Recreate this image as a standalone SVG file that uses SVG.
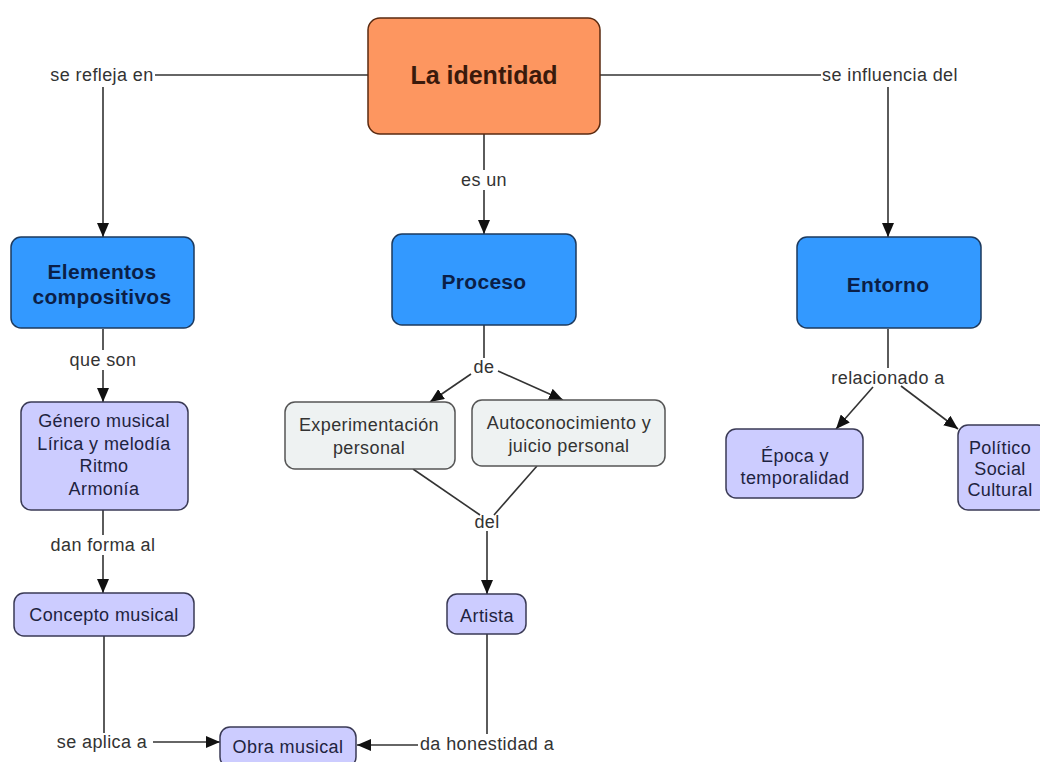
<svg xmlns="http://www.w3.org/2000/svg" width="1040" height="762" viewBox="0 0 1040 762">
<defs>
<style>
.lbl{font-family:"Liberation Sans",Arial,sans-serif;font-size:18px;letter-spacing:0.4px;fill:#333;text-anchor:middle}
.ln{fill:none;stroke:#333;stroke-width:1.6}
.blue{fill:#3399ff;stroke:#1d3a5e;stroke-width:1.5}
.lav{fill:#ccccff;stroke:#3a3a55;stroke-width:1.5}
.gry{fill:#eef2f2;stroke:#555;stroke-width:1.5}
.tb{font-family:"Liberation Sans",Arial,sans-serif;font-size:21px;letter-spacing:0.3px;font-weight:bold;fill:#0b1f47;text-anchor:middle}
.tn{font-family:"Liberation Sans",Arial,sans-serif;font-size:18px;letter-spacing:0.4px;fill:#1e2340;text-anchor:middle}
.tg{font-family:"Liberation Sans",Arial,sans-serif;font-size:18px;letter-spacing:0.4px;fill:#333;text-anchor:middle}
</style>
<marker id="ah" viewBox="0 0 14 12" refX="14" refY="6" markerWidth="14" markerHeight="12" markerUnits="userSpaceOnUse" orient="auto">
<path d="M0,0 L14,6 L0,12 z" fill="#111"/>
</marker>
</defs>
<rect width="1040" height="762" fill="#fff"/>
<g id="connectors">
<path class="ln" d="M368,75 H155"/>
<path class="ln" d="M103,87 V237" marker-end="url(#ah)"/>
<path class="ln" d="M600,75 H821"/>
<path class="ln" d="M888,87 V237" marker-end="url(#ah)"/>
<path class="ln" d="M484,134 V170"/>
<path class="ln" d="M484,190 V234" marker-end="url(#ah)"/>
<path class="ln" d="M103,329 V350"/>
<path class="ln" d="M103,370 V402" marker-end="url(#ah)"/>
<path class="ln" d="M103,510 V535"/>
<path class="ln" d="M103,555 V593" marker-end="url(#ah)"/>
<path class="ln" d="M484,325 V358"/>
<path class="ln" d="M471,374 L430,402" marker-end="url(#ah)"/>
<path class="ln" d="M498,371 L563,400" marker-end="url(#ah)"/>
<path class="ln" d="M413,469 L480,515"/>
<path class="ln" d="M537,466 L494,515"/>
<path class="ln" d="M487,531 V594" marker-end="url(#ah)"/>
<path class="ln" d="M888,329 V368"/>
<path class="ln" d="M873,387 L836,429" marker-end="url(#ah)"/>
<path class="ln" d="M901,386 L958,429" marker-end="url(#ah)"/>
<path class="ln" d="M104,636 V733"/>
<path class="ln" d="M153,742 H220" marker-end="url(#ah)"/>
<path class="ln" stroke="#777" d="M487,634 V734"/>
<path class="ln" d="M418,745 H357" marker-end="url(#ah)"/>
<text class="lbl" x="102" y="81">se refleja en</text>
<text class="lbl" x="890" y="81">se influencia del</text>
<text class="lbl" x="484" y="186">es un</text>
<text class="lbl" x="103" y="366">que son</text>
<text class="lbl" x="103" y="551">dan forma al</text>
<text class="lbl" x="484" y="373">de</text>
<text class="lbl" x="487" y="528">del</text>
<text class="lbl" x="888" y="384">relacionado a</text>
<text class="lbl" x="102" y="748">se aplica a</text>
<text class="lbl" x="487" y="750">da honestidad a</text>
</g>
<g id="n-identidad">
<rect x="368" y="18" width="232" height="116" rx="12" fill="#fd9660" stroke="#5a2a10" stroke-width="1.5"/>
<text x="484" y="84" font-family="Liberation Sans,Arial,sans-serif" font-size="25" font-weight="bold" fill="#3a1a0c" text-anchor="middle">La identidad</text>
</g>
<g id="n-elementos">
<rect class="blue" x="11" y="237" width="183" height="91" rx="10"/>
<text class="tb" x="102" y="279">Elementos</text>
<text class="tb" x="102" y="304">compositivos</text>
</g>
<g id="n-proceso">
<rect class="blue" x="392" y="234" width="184" height="91" rx="10"/>
<text class="tb" x="484" y="289">Proceso</text>
</g>
<g id="n-entorno">
<rect class="blue" x="797" y="237" width="184" height="91" rx="10"/>
<text class="tb" x="888" y="292">Entorno</text>
</g>
<g id="n-genero">
<rect class="lav" x="21" y="402" width="167" height="108" rx="10"/>
<text class="tn" x="104" y="427">Género musical</text>
<text class="tn" x="104" y="449.5">Lírica y melodía</text>
<text class="tn" x="104" y="472">Ritmo</text>
<text class="tn" x="104" y="494.5">Armonía</text>
</g>
<g id="n-concepto">
<rect class="lav" x="14" y="593" width="180" height="43" rx="10"/>
<text class="tn" x="104" y="621">Concepto musical</text>
</g>
<g id="n-experimentacion">
<rect class="gry" x="285" y="402" width="170" height="67" rx="10"/>
<text class="tg" x="369" y="431">Experimentación</text>
<text class="tg" x="369" y="454">personal</text>
</g>
<g id="n-autoconocimiento">
<rect class="gry" x="472" y="400" width="193" height="66" rx="10"/>
<text class="tg" x="569" y="429">Autoconocimiento y</text>
<text class="tg" x="569" y="452">juicio personal</text>
</g>
<g id="n-artista">
<rect class="lav" x="447" y="594" width="79" height="40" rx="10"/>
<text class="tn" x="487" y="622">Artista</text>
</g>
<g id="n-obra">
<rect class="lav" x="220" y="727" width="136" height="40" rx="10"/>
<text class="tn" x="288" y="753">Obra musical</text>
</g>
<g id="n-epoca">
<rect class="lav" x="726" y="429" width="137" height="69" rx="10"/>
<text class="tn" x="795" y="462">Época y</text>
<text class="tn" x="795" y="484">temporalidad</text>
</g>
<g id="n-politico">
<rect class="lav" x="958" y="425" width="90" height="85" rx="10"/>
<text class="tn" x="1000" y="454">Político</text>
<text class="tn" x="1000" y="475">Social</text>
<text class="tn" x="1000" y="496">Cultural</text>
</g>
</svg>
